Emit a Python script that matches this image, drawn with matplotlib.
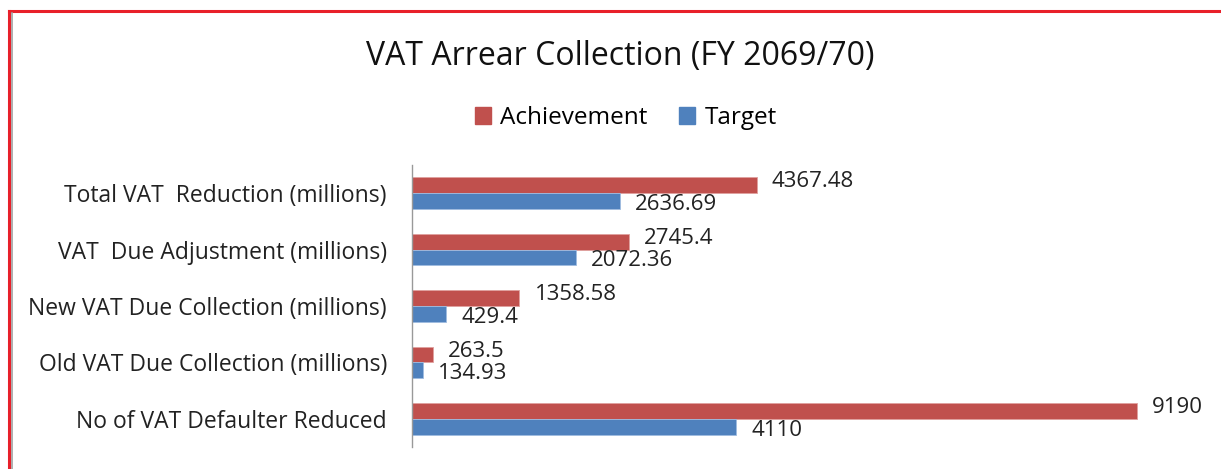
import matplotlib.pyplot as plt
import matplotlib.patches as mpatches
import numpy as np

# ---- data ----
categories = ['Total VAT  Reduction (millions)',
              'VAT  Due Adjustment (millions)',
              'New VAT Due Collection (millions)',
              'Old VAT Due Collection (millions)',
              'No of VAT Defaulter Reduced']
achievement = [4367.48, 2745.4, 1358.58, 263.5, 9190]
target = [2636.69, 2072.36, 429.4, 134.93, 4110]
achievement_lbl = ['4367.48', '2745.4', '1358.58', '263.5', '9190']
target_lbl = ['2636.69', '2072.36', '429.4', '134.93', '4110']

RED = '#C0504D'
BLUE = '#4F81BD'
FONT = 'Open Sans'

W, H = 1221, 469
fig = plt.figure(figsize=(W/100, H/100), dpi=100)
fig.patch.set_facecolor('white')

# red frame (left/top visible, cropped at right/bottom)
fig.add_artist(plt.Line2D([9/W, 9/W], [0, 1-11/H], transform=fig.transFigure,
                          color='#E8202A', lw=2.2))
fig.add_artist(plt.Line2D([9/W, 1], [1-11/H, 1-11/H], transform=fig.transFigure,
                          color='#E8202A', lw=2.2))
fig.add_artist(plt.Line2D([11.5/W, 11.5/W], [0, 1-13/H], transform=fig.transFigure,
                          color='#A0A0A0', lw=1.2))

ax = fig.add_axes([412/W, 1-447/H, (1201-412)/W, (447-165)/H])
y = np.arange(len(categories))
bh = 0.28
ax.barh(y - bh/2, achievement, height=bh, color=RED, edgecolor='#E0A09E', lw=0.6)
ax.barh(y + bh/2, target, height=bh, color=BLUE, edgecolor='#A0BCE0', lw=0.6)

for i in range(len(categories)):
    ax.annotate(achievement_lbl[i], (achievement[i], y[i] - bh/2), xytext=(11, 2.5),
                textcoords='offset points', va='center', ha='left',
                fontsize=16, family=FONT, color='#222222')
    ax.annotate(target_lbl[i], (target[i], y[i] + bh/2), xytext=(11, -2.5),
                textcoords='offset points', va='center', ha='left',
                fontsize=16, family=FONT, color='#222222')

ax.set_xlim(0, 10000)
ax.set_ylim(len(categories) - 0.5, -0.5)
ax.set_yticks(y)
ax.set_yticklabels(categories, fontsize=16.5, family=FONT, color='#222222')
ax.tick_params(axis='y', length=0, pad=18)
ax.set_xticks([])
for s in ['top', 'right', 'bottom']:
    ax.spines[s].set_visible(False)
ax.spines['left'].set_color('#999999')
ax.spines['left'].set_linewidth(1)

fig.text(620/W, 1-57/H, 'VAT Arrear Collection (FY 2069/70)', ha='center', va='center',
         fontsize=23, family=FONT, color='#111111')

handles = [mpatches.Patch(color=RED, label='Achievement'),
           mpatches.Patch(color=BLUE, label='Target')]
fig.legend(handles=handles, loc='center', bbox_to_anchor=(626/W, 1-118/H), ncol=2,
           frameon=False, prop={'family': FONT, 'size': 17.5}, handlelength=0.65,
           handleheight=0.65, handletextpad=0.4, columnspacing=1.3)

fig.savefig('out.png', dpi=100, facecolor='white')
